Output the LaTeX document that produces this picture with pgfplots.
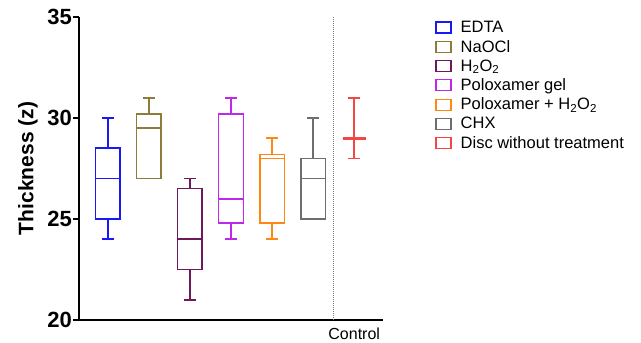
\documentclass[border=0pt]{standalone}
\usepackage{pgfplots}
\pgfplotsset{compat=1.18}
\usepgfplotslibrary{statistics}
\usepackage{fontspec}
\setmainfont{Liberation Sans}
\definecolor{cEDTA}{RGB}{25,25,245}
\definecolor{cNaOCl}{RGB}{140,125,60}
\definecolor{cHtwo}{RGB}{110,25,90}
\definecolor{cPolo}{RGB}{190,40,235}
\definecolor{cPoloH}{RGB}{255,135,20}
\definecolor{cCHX}{RGB}{110,110,110}
\definecolor{cCtrl}{RGB}{245,70,70}
\pgfplotsset{mybox/.style={line width=1.6pt, solid, mark=none,
  /pgfplots/boxplot/box extend=0.6, /pgfplots/boxplot/whisker extend=0.28}}
\pgfplotsset{myleg/.style={legend image code/.code={\draw[##1, line width=1.4pt] (0pt,-5.5pt) rectangle (15pt,5.5pt); \path (23pt,0pt);}}}
\begin{document}
\begin{tikzpicture}
\useasboundingbox (-79pt,-23pt) rectangle (562pt,320pt);
\begin{axis}[
  at={(0pt,0pt)}, anchor=south west,
  scale only axis, width=304pt, height=303pt,
  xmin=0.3, xmax=7.7, ymin=20, ymax=35,
  boxplot/draw direction=y,
  boxplot/every box/.style={line width=1.6pt},
  boxplot/every median/.style={line width=1.6pt},
  boxplot/every whisker/.style={line width=1.6pt},
  axis lines*=left,
  axis line style={line width=1.6pt, black},
  ytick={20,25,30,35},
  xtick={7}, xticklabels={Control},
  major x tick style={draw=none},
  major y tick style={line width=1.6pt, black},
  tick align=outside, major tick length=6pt,
  /pgf/number format/assume math mode=true,
  yticklabel style={font=\fontsize{22}{24}\selectfont\bfseries, inner sep=1pt},
  xticklabel style={font=\fontsize{16}{18}\selectfont, yshift=2pt},
  ylabel={Thickness (z)},
  ylabel style={font=\fontsize{21}{24}\selectfont\bfseries, at={(axis description cs:-0.168,0.5)}, anchor=center},
  legend style={draw=none, fill=none, at={(axis description cs:1.171,0.99)}, anchor=north west,
    font=\fontsize{16.5}{18}\selectfont, inner sep=0pt, row sep=4pt,
    nodes={inner sep=1pt}},
  legend cell align=left,
  clip=false,
]
\addplot+[cEDTA, mybox, boxplot prepared={draw position=1, lower whisker=24, lower quartile=25, median=27, upper quartile=28.5, upper whisker=30}, myleg] coordinates {};
\addlegendentry{EDTA}
\addplot+[cNaOCl, mybox, boxplot prepared={draw position=2, lower whisker=27, lower quartile=27, median=29.5, upper quartile=30.2, upper whisker=31}, myleg] coordinates {};
\addlegendentry{NaOCl}
\addplot+[cHtwo, mybox, boxplot prepared={draw position=3, lower whisker=21, lower quartile=22.5, median=24, upper quartile=26.5, upper whisker=27}, myleg] coordinates {};
\addlegendentry{H\textsubscript{2}O\textsubscript{2}}
\addplot+[cPolo, mybox, boxplot prepared={draw position=4, lower whisker=24, lower quartile=24.8, median=26, upper quartile=30.2, upper whisker=31}, myleg] coordinates {};
\addlegendentry{Poloxamer gel}
\addplot+[cPoloH, mybox, boxplot prepared={draw position=5, lower whisker=24, lower quartile=24.8, median=28, upper quartile=28.2, upper whisker=29}, myleg] coordinates {};
\addlegendentry{Poloxamer + H\textsubscript{2}O\textsubscript{2}}
\addplot+[cCHX, mybox, boxplot prepared={draw position=6, lower whisker=25, lower quartile=25, median=27, upper quartile=28, upper whisker=30}, myleg] coordinates {};
\addlegendentry{CHX}
\addplot+[cCtrl, mybox, boxplot prepared={draw position=7, lower whisker=28, lower quartile=29, median=29, upper quartile=29, upper whisker=31}, /pgfplots/boxplot/box extend=0.55, /pgfplots/boxplot/every median/.style={line width=3pt}, myleg] coordinates {};
\addlegendentry{Disc without treatment}
\addplot[gray, densely dotted, line width=1pt, forget plot] coordinates {(6.5,20) (6.5,35)};
\end{axis}
\end{tikzpicture}
\end{document}
